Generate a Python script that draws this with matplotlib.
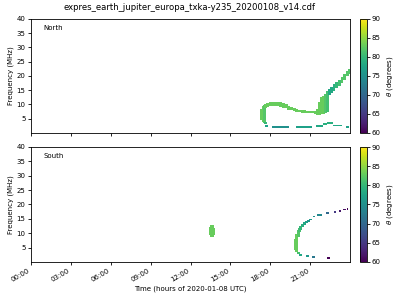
import numpy as np
import matplotlib
matplotlib.use('Agg')
import matplotlib.pyplot as plt
from matplotlib import cm, colors

title = 'expres_earth_jupiter_europa_txka-y235_20200108_v14.cdf'
hour_ticks = [0, 3, 6, 9, 12, 15, 18, 21]
freq_ticks = [5, 10, 15, 20, 25, 30, 35, 40]
theta_ticks = [60, 65, 70, 75, 80, 85, 90]

# North: band pieces (time in hours, freq low/high in MHz, theta in degrees)
north_band_t = [17.35, 17.45, 17.55, 17.65, 17.65, 17.8, 18.0, 18.2, 18.4, 18.6, 18.8,
                19.0, 19.2, 19.4, 19.6, 19.8, 20.0, 20.2, 20.4, 20.6, 20.8, 21.0, 21.2, 21.4,
                21.55, 21.7, 21.85, 22.0, 22.15, 22.3, 22.45, 22.6, 22.8, 23.0, 23.2, 23.4,
                23.6, 23.8, 23.95]
north_band_lo = [4.6, 3.9, 3.4, 3.2, 8.8, 9.1, 9.4, 9.5, 9.5, 9.4, 9.2,
                 8.9, 8.6, 8.2, 7.9, 7.6, 7.4, 7.2, 7.1, 7.0, 7.0, 6.9, 6.9, 6.6,
                 6.3, 6.4, 6.6, 6.8, 7.0, 7.5, 13.3, 14.0, 14.8, 15.6, 16.5, 17.5,
                 18.6, 19.8, 20.8]
north_band_hi = [8.4, 9.3, 9.8, 3.9, 10.2, 10.6, 10.8, 11.0, 11.0, 10.9, 10.7,
                 10.4, 10.0, 9.6, 9.2, 8.8, 8.5, 8.2, 8.0, 7.9, 7.8, 7.8, 7.8, 7.8,
                 8.5, 11.0, 12.5, 13.0, 13.8, 14.6, 15.4, 16.2, 17.0, 17.8, 18.7, 19.6,
                 20.6, 21.6, 22.3]
north_band_theta = [83, 83, 82, 80, 83, 83, 83, 83, 83, 83, 83,
                    83, 83, 83, 83, 83, 83, 83, 83, 83, 83, 83, 83, 83,
                    83, 83, 83, 83, 82, 81, 78, 78, 79, 80, 81, 82,
                    82, 82, 82]

# North: short dashes near the bottom (start, end, freq, theta)
north_dash_t0 = [17.6, 18.15, 19.95, 21.45, 21.95, 22.25, 22.7, 23.7]
north_dash_t1 = [17.8, 19.4, 21.15, 21.95, 22.25, 22.7, 23.4, 23.9]
north_dash_f = [2.3, 2.1, 2.1, 2.4, 3.0, 3.4, 2.6, 2.1]
north_dash_theta = [77, 75, 77, 78, 79, 79, 78, 77]

# South: band pieces
south_band_t = [13.5, 13.58, 13.66, 13.72,
                19.9, 20.0, 20.1, 20.1, 20.2, 20.3, 20.4, 20.55, 20.7, 20.85, 21.0]
south_band_lo = [9.3, 8.6, 8.5, 9.2,
                 4.3, 3.3, 2.8, 8.8, 10.3, 11.2, 12.0, 12.8, 13.4, 14.0, 14.5]
south_band_hi = [12.0, 12.9, 12.8, 11.8,
                 8.0, 9.8, 3.4, 11.0, 11.8, 12.5, 13.1, 13.8, 14.3, 14.7, 15.1]
south_band_theta = [83, 83, 83, 83,
                    83, 83, 81, 82, 81, 80, 79, 78, 77, 76, 76]

# South: dashes
south_dash_t0 = [20.2, 20.7, 21.15, 21.25, 21.5, 22.2, 22.8, 23.2, 23.5, 23.8, 22.25]
south_dash_t1 = [20.4, 20.9, 21.4, 21.4, 21.9, 22.4, 22.95, 23.3, 23.7, 23.87, 22.5]
south_dash_f = [2.5, 2.1, 1.7, 15.8, 16.4, 17.0, 17.4, 17.8, 18.2, 18.5, 1.3]
south_dash_theta = [78, 76, 72, 75, 74, 70, 65, 62, 61, 60, 60]

cmap = plt.get_cmap('viridis')
norm = colors.Normalize(vmin=60, vmax=90)

fig = plt.figure(figsize=(4, 3), dpi=100)
ax_n = fig.add_axes([0.0775, 0.557, 0.7975, 0.38])
ax_s = fig.add_axes([0.0775, 0.127, 0.7975, 0.383])
cax_n = fig.add_axes([0.9, 0.557, 0.0175, 0.38])
cax_s = fig.add_axes([0.9, 0.127, 0.0175, 0.383])

def draw_panel(ax, bt, blo, bhi, bth, dt0, dt1, df, dth):
    bt = np.array(bt)
    blo = np.array(blo)
    bhi = np.array(bhi)
    ax.bar(bt, bhi - blo, bottom=blo, width=0.21, color=cmap(norm(np.array(bth))),
           linewidth=0, align='center')
    dt0 = np.array(dt0)
    dt1 = np.array(dt1)
    df = np.array(df)
    ax.bar(dt0, np.full(len(df), 0.6), bottom=df - 0.3, width=dt1 - dt0,
           color=cmap(norm(np.array(dth))), linewidth=0, align='edge')

draw_panel(ax_n, north_band_t, north_band_lo, north_band_hi, north_band_theta,
           north_dash_t0, north_dash_t1, north_dash_f, north_dash_theta)
draw_panel(ax_s, south_band_t, south_band_lo, south_band_hi, south_band_theta,
           south_dash_t0, south_dash_t1, south_dash_f, south_dash_theta)

for ax, name, cax in [(ax_n, 'North', cax_n), (ax_s, 'South', cax_s)]:
    ax.set_xlim(0, 24)
    ax.set_ylim(0, 40)
    ax.set_xticks(hour_ticks)
    ax.set_yticks(freq_ticks)
    ax.tick_params(labelsize=5, length=2.5, width=0.6, pad=1.5)
    ax.set_ylabel('Frequency (MHz)', fontsize=5, labelpad=2)
    ax.text(0.04, 0.9, name, transform=ax.transAxes, fontsize=5)
    for sp in ax.spines.values():
        sp.set_linewidth(0.6)
    cb = fig.colorbar(cm.ScalarMappable(norm=norm, cmap=cmap), cax=cax)
    cb.set_ticks(theta_ticks)
    cb.ax.tick_params(labelsize=5, length=2, width=0.6, pad=1.5)
    cb.outline.set_linewidth(0.6)
    cb.set_label(r'$\theta$ (degrees)', fontsize=5, labelpad=3)

ax_n.set_xticklabels([])
ax_s.set_xticklabels(['%02d:00' % h for h in hour_ticks], rotation=30, ha='right')
ax_s.set_xlabel('Time (hours of 2020-01-08 UTC)', fontsize=5, labelpad=2)
fig.text(0.475, 0.965, title, ha='center', fontsize=6.1)

fig.savefig('out.png', dpi=100)
